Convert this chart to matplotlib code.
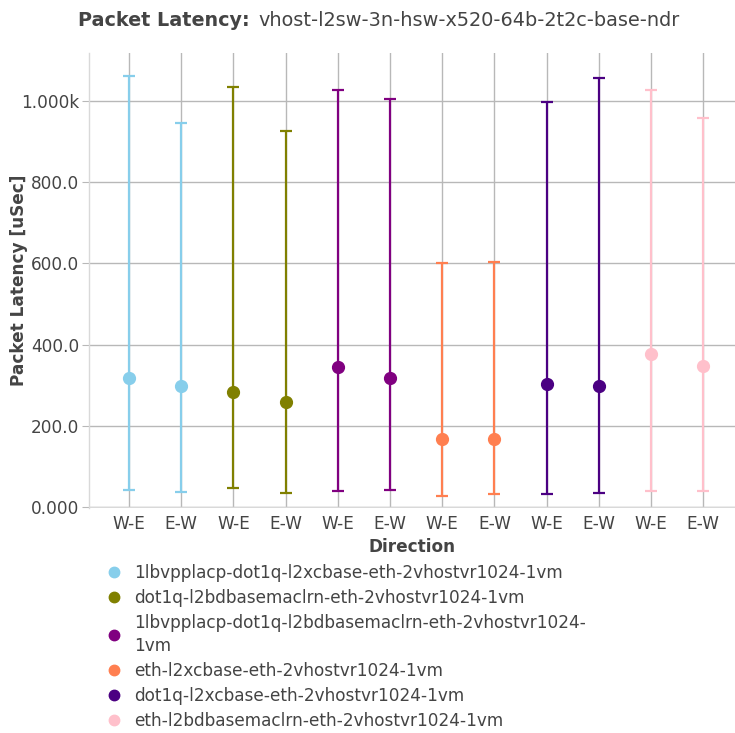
import matplotlib
matplotlib.use("Agg")
import matplotlib.pyplot as plt
from matplotlib.lines import Line2D
import numpy as np

# test names, one per colour, each with a W-E and an E-W sample
tests = [
    "1lbvpplacp-dot1q-l2xcbase-eth-2vhostvr1024-1vm",
    "dot1q-l2bdbasemaclrn-eth-2vhostvr1024-1vm",
    "1lbvpplacp-dot1q-l2bdbasemaclrn-eth-2vhostvr1024-\n1vm",
    "eth-l2xcbase-eth-2vhostvr1024-1vm",
    "dot1q-l2xcbase-eth-2vhostvr1024-1vm",
    "eth-l2bdbasemaclrn-eth-2vhostvr1024-1vm",
]
colors = ["#87ceeb", "#808000", "#800080", "#ff7f50", "#4b0082", "#ffc0cb"]
directions = ["W-E", "E-W"]

# latency in uSec, [W-E, E-W] per test
lat_avg = [[317, 298], [284, 260], [344, 317], [169, 167], [304, 298], [376, 348]]
lat_min = [[43, 38], [47, 36], [41, 42], [28, 32], [33, 36], [39, 39]]
lat_max = [[1062, 946], [1034, 926], [1027, 1005], [600, 604], [997, 1057], [1027, 959]]

fig = plt.figure(figsize=(7.35, 7.33), dpi=100)
ax = fig.add_axes([89 / 735, 1 - 508 / 733, 1 - 89 / 735, (508 - 53) / 733])

grid_col = "#b8b8b8"
text_col = "#444444"
tick_labels = []
handles = []
pos = 0
for i, name in enumerate(tests):
    xs = np.arange(pos, pos + len(directions))
    avg = np.array(lat_avg[i])
    lo = avg - np.array(lat_min[i])
    hi = np.array(lat_max[i]) - avg
    ax.errorbar(xs, avg, yerr=[lo, hi], fmt="o", color=colors[i], ecolor=colors[i],
                elinewidth=1.6, capsize=4, capthick=1.6, markersize=8.5, zorder=3)
    tick_labels += directions
    handles.append(Line2D([], [], marker="o", linestyle="none", color=colors[i],
                          markersize=7.5, label=name))
    pos += len(directions)

ax.set_xlim(-0.767, 11.61)
ax.set_ylim(-2, 1118)
ax.set_xticks(np.arange(pos))
ax.set_xticklabels(tick_labels)
yt = [0, 200, 400, 600, 800, 1000]
ax.set_yticks(yt)
ax.set_yticklabels(["0.000", "200.0", "400.0", "600.0", "800.0", "1.000k"])

ax.grid(True, color=grid_col, linewidth=1.0, zorder=0)
ax.set_axisbelow(True)
for side in ["top", "right", "bottom"]:
    ax.spines[side].set_visible(False)
ax.spines["left"].set_color("#d9d9d9")
ax.spines["left"].set_linewidth(1.0)
ax.axhline(0, color="#d9d9d9", linewidth=1.0, zorder=1)
ax.tick_params(axis="y", length=5, color=grid_col, labelsize=12.2, labelcolor=text_col, pad=2)
ax.tick_params(axis="x", length=0, labelsize=12.2, labelcolor=text_col, pad=5)

ax.set_xlabel("Direction", fontsize=12.2, fontweight="bold", color=text_col, labelpad=4)
ax.set_ylabel("Packet Latency [uSec]", fontsize=12.2, fontweight="bold", color=text_col,
              va="center")
ax.yaxis.set_label_coords(-70 / 646, 0.5)

fig.text(250 / 735, 1 - 20 / 733, "Packet Latency:", ha="right", va="center",
         fontsize=13.8, fontweight="bold", color=text_col)
fig.text(258 / 735, 1 - 20 / 733, "vhost-l2sw-3n-hsw-x520-64b-2t2c-base-ndr", ha="left",
         va="center", fontsize=13.9, color=text_col)

leg = fig.legend(handles=handles, loc="upper left", bbox_to_anchor=(100 / 735, 1 - 557 / 733),
                 frameon=False, fontsize=12.2, handlelength=0.8, handletextpad=0.8,
                 labelspacing=0.41, borderaxespad=0)
for t in leg.get_texts():
    t.set_color(text_col)
    t.set_linespacing(1.36)

fig.savefig("out.png", dpi=100)
